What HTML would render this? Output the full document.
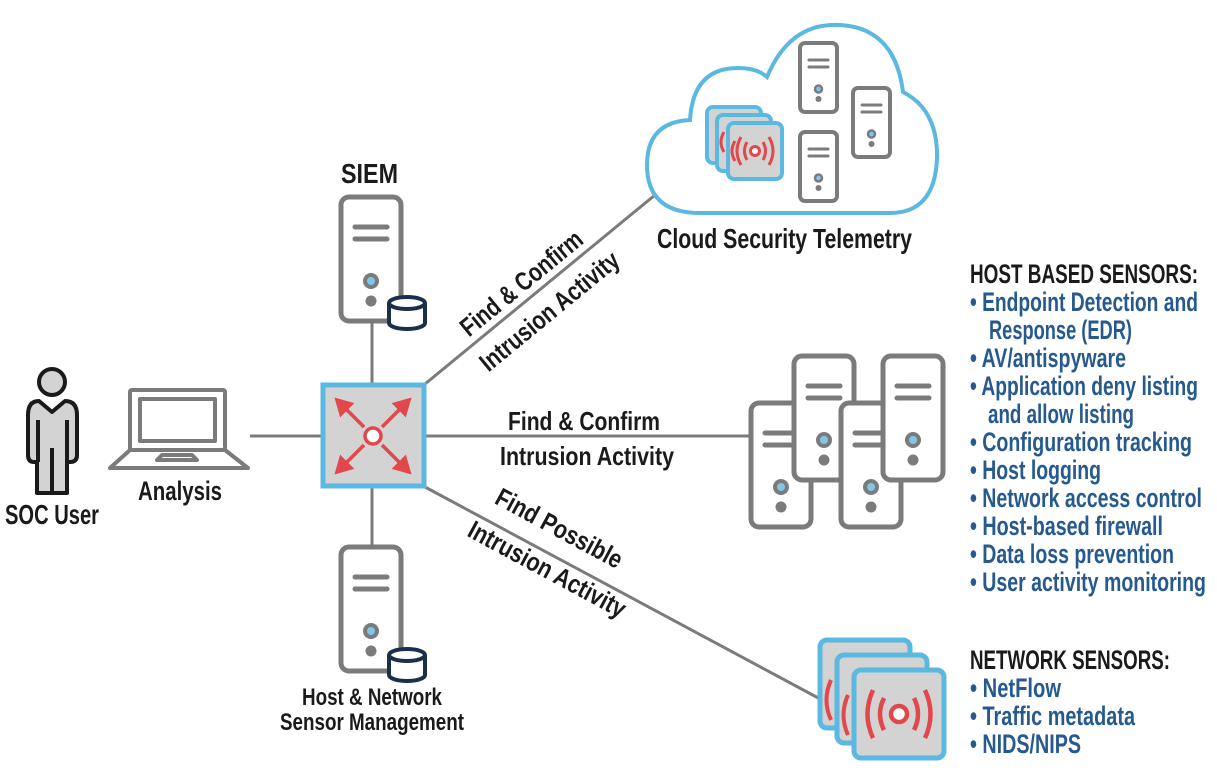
<!DOCTYPE html>
<html><head><meta charset="utf-8"><style>
html,body{margin:0;padding:0;background:#fff;}
svg{display:block;}
text{font-family:"Liberation Sans Narrow","Liberation Sans",sans-serif;font-weight:bold;}
</style></head><body>
<svg width="1217" height="774" viewBox="0 0 1217 774" xmlns="http://www.w3.org/2000/svg">
<defs>
<g id="srv">
<rect x="0" y="0" width="60" height="124" rx="8" fill="#fff" stroke="#7b7b7b" stroke-width="5"/>
<line x1="14" y1="30" x2="46" y2="30" stroke="#7b7b7b" stroke-width="5" stroke-linecap="round"/>
<line x1="14" y1="42" x2="46" y2="42" stroke="#7b7b7b" stroke-width="5" stroke-linecap="round"/>
<circle cx="30" cy="84" r="6" fill="#7fc6e8" stroke="#7b7b7b" stroke-width="4"/>
<circle cx="30" cy="104" r="5.5" fill="#7b7b7b"/>
</g>
<g id="sm">
<rect x="0" y="0" width="37" height="69" rx="5" fill="#fff" stroke="#7b7b7b" stroke-width="4"/>
<line x1="9" y1="17" x2="28" y2="17" stroke="#7b7b7b" stroke-width="3" stroke-linecap="round"/>
<line x1="9" y1="24" x2="28" y2="24" stroke="#7b7b7b" stroke-width="3" stroke-linecap="round"/>
<circle cx="18.5" cy="46" r="3.5" fill="#7fc6e8" stroke="#7b7b7b" stroke-width="2.5"/>
<circle cx="18.5" cy="56" r="3" fill="#7b7b7b"/>
</g>
<g id="db">
<path d="M2 10 L2 30 A18 6 0 0 0 38 30 L38 10" fill="#fff" stroke="#1b2f4d" stroke-width="4"/>
<ellipse cx="20" cy="10" rx="18" ry="6" fill="#fff" stroke="#1b2f4d" stroke-width="4"/>
</g>
<g id="sens">
<rect x="0" y="0" width="90" height="88" rx="7" fill="#d3d3d3" stroke="#5bb8e0" stroke-width="5"/>
</g>
<g id="cs">
<rect x="0" y="0" width="54" height="56" rx="6" fill="#d3d3d3" stroke="#5bb8e0" stroke-width="4"/>
</g>
</defs>

<g stroke="#7b7b7b" stroke-width="3" fill="none">
<line x1="250" y1="436" x2="322" y2="436"/>
<line x1="372" y1="322" x2="372" y2="384"/>
<line x1="372" y1="487" x2="372" y2="546"/>
<line x1="425" y1="384" x2="655" y2="195"/>
<line x1="425" y1="436" x2="750" y2="436"/>
<line x1="425" y1="487" x2="822" y2="700"/>
</g>

<g stroke="#1a1a1a" stroke-width="4" fill="#d3d3d3" stroke-linejoin="round">
<circle cx="52" cy="382" r="13"/>
<path d="M28 415 Q28 401 39 401 L52 412 L65 401 Q77 401 77 415 L77 455 Q77 462 70 462 L67 462 L67 493 L37 493 L37 462 L34 462 Q28 462 28 455 Z"/>
<line x1="52" y1="448" x2="52" y2="493"/>
<line x1="38" y1="420" x2="38" y2="462"/>
<line x1="67" y1="420" x2="67" y2="462"/>
</g>
<text x="5" y="524" font-size="28" textLength="94" lengthAdjust="spacingAndGlyphs" fill="#1a1a1a">SOC User</text>

<g stroke="#7b7b7b" stroke-width="4" fill="none" stroke-linejoin="round">
<rect x="130" y="390" width="95" height="60" rx="2"/>
<rect x="140" y="399" width="75" height="42"/>
<path d="M130 450 L110 468 L248 468 L225 450"/>
<path d="M157 460 L162 455 L192 455 L197 460 Z"/>
</g>
<text x="138" y="500" font-size="27" textLength="84" lengthAdjust="spacingAndGlyphs" fill="#1a1a1a">Analysis</text>

<text x="341" y="183" font-size="28" textLength="57" lengthAdjust="spacingAndGlyphs" fill="#1a1a1a">SIEM</text>
<use href="#srv" x="341" y="197"/>
<use href="#db" x="387" y="293"/>

<use href="#srv" x="341" y="547"/>
<use href="#db" x="387" y="645"/>
<text x="302" y="705" font-size="24" textLength="140" lengthAdjust="spacingAndGlyphs" fill="#1a1a1a">Host &amp; Network</text>
<text x="280" y="730" font-size="24" textLength="184" lengthAdjust="spacingAndGlyphs" fill="#1a1a1a">Sensor Management</text>

<rect x="323" y="385" width="101" height="101" fill="#d3d3d3" stroke="#5bb8e0" stroke-width="5"/>
<g stroke="#e0484b" stroke-width="3.5" fill="#e0484b">
<line x1="364" y1="427" x2="343" y2="406"/><line x1="382" y1="427" x2="403" y2="406"/>
<line x1="364" y1="445" x2="343" y2="466"/><line x1="382" y1="445" x2="403" y2="466"/>
<path d="M337 400 L351 404 L341 414 Z"/><path d="M409 400 L395 404 L405 414 Z"/>
<path d="M337 472 L351 468 L341 458 Z"/><path d="M409 472 L395 468 L405 458 Z"/>
</g>
<circle cx="373" cy="436" r="8" fill="#fff" stroke="#e0484b" stroke-width="3.5"/>

<g fill="#1a1a1a" font-size="26">
<text transform="translate(527,290) rotate(-39.4)" text-anchor="middle" textLength="150" lengthAdjust="spacingAndGlyphs">Find &amp; Confirm</text>
<text transform="translate(555,318) rotate(-39.4)" text-anchor="middle" textLength="172" lengthAdjust="spacingAndGlyphs">Intrusion Activity</text>
<text x="508" y="430" textLength="152" lengthAdjust="spacingAndGlyphs">Find &amp; Confirm</text>
<text x="500" y="465" textLength="174" lengthAdjust="spacingAndGlyphs">Intrusion Activity</text>
<text transform="translate(555,536) rotate(28.3)" text-anchor="middle" textLength="140" lengthAdjust="spacingAndGlyphs">Find Possible</text>
<text transform="translate(543,577) rotate(28.3)" text-anchor="middle" textLength="175" lengthAdjust="spacingAndGlyphs">Intrusion Activity</text>
</g>

<path d="M700 213 Q647 213 647 165 Q647 122 690 120 Q693 68 738 68 Q757 68 767 77 Q790 22 840 25 Q895 28 903 92 Q938 110 937 158 Q935 213 890 213 Z" fill="#fff" stroke="#5bb8e0" stroke-width="4"/>
<use href="#sm" x="800" y="43"/>
<use href="#sm" x="853" y="88"/>
<use href="#sm" x="800" y="132"/>
<use href="#cs" x="707" y="107"/>
<use href="#cs" x="717" y="115"/>
<path d="M724 132 Q718 142 724 152" stroke="#e0484b" stroke-width="3" fill="none"/>
<use href="#cs" x="728" y="123"/>
<path d="M735 141 Q729 151 735 161" stroke="#e0484b" stroke-width="3" fill="none"/>
<g stroke="#e0484b" stroke-width="3" fill="none">
<circle cx="755" cy="151" r="4.5" fill="#fff"/>
<path d="M747 142 Q742 151 747 160"/><path d="M763 142 Q768 151 763 160"/>
<path d="M741 137 Q733 151 741 165"/><path d="M769 137 Q777 151 769 165"/>
</g>
<text x="657" y="248" font-size="28" textLength="255" lengthAdjust="spacingAndGlyphs" fill="#1a1a1a">Cloud Security Telemetry</text>

<use href="#srv" x="751" y="403"/>
<use href="#srv" x="794" y="356"/>
<use href="#srv" x="841" y="403"/>
<use href="#srv" x="883" y="356"/>

<use href="#sens" x="820" y="640"/>
<use href="#sens" x="837" y="655"/>
<use href="#sens" x="854" y="670"/>
<path d="M831 680 Q822 700 831 720" stroke="#e0484b" stroke-width="4" fill="none"/>
<path d="M848 695 Q839 715 848 735" stroke="#e0484b" stroke-width="4" fill="none"/>
<g stroke="#e0484b" stroke-width="4.5" fill="none">
<circle cx="899" cy="714" r="8" fill="#fff"/>
<path d="M884 698 Q876 714 884 730"/><path d="M914 698 Q922 714 914 730"/>
<path d="M873 690 Q862 714 873 738"/><path d="M925 690 Q936 714 925 738"/>
</g>

<g font-size="27">
<text x="970" y="283" fill="#1a1a1a" textLength="228" lengthAdjust="spacingAndGlyphs">HOST BASED SENSORS:</text>
<g fill="#265a8f">
<text x="970" y="311" textLength="228" lengthAdjust="spacingAndGlyphs">• Endpoint Detection and</text>
<text x="989" y="339" textLength="143" lengthAdjust="spacingAndGlyphs">Response (EDR)</text>
<text x="970" y="367" textLength="156" lengthAdjust="spacingAndGlyphs">• AV/antispyware</text>
<text x="970" y="395" textLength="228" lengthAdjust="spacingAndGlyphs">• Application deny listing</text>
<text x="988" y="423" textLength="146" lengthAdjust="spacingAndGlyphs">and allow listing</text>
<text x="970" y="451" textLength="222" lengthAdjust="spacingAndGlyphs">• Configuration tracking</text>
<text x="970" y="479" textLength="131" lengthAdjust="spacingAndGlyphs">• Host logging</text>
<text x="970" y="507" textLength="232" lengthAdjust="spacingAndGlyphs">• Network access control</text>
<text x="970" y="535" textLength="193" lengthAdjust="spacingAndGlyphs">• Host-based firewall</text>
<text x="970" y="563" textLength="204" lengthAdjust="spacingAndGlyphs">• Data loss prevention</text>
<text x="970" y="591" textLength="236" lengthAdjust="spacingAndGlyphs">• User activity monitoring</text>
</g>
<text x="970" y="669" fill="#1a1a1a" textLength="200" lengthAdjust="spacingAndGlyphs">NETWORK SENSORS:</text>
<g fill="#265a8f">
<text x="970" y="697" textLength="91" lengthAdjust="spacingAndGlyphs">• NetFlow</text>
<text x="970" y="725" textLength="165" lengthAdjust="spacingAndGlyphs">• Traffic metadata</text>
<text x="970" y="753" textLength="111" lengthAdjust="spacingAndGlyphs">• NIDS/NIPS</text>
</g>
</g>
</svg>
</body></html>
